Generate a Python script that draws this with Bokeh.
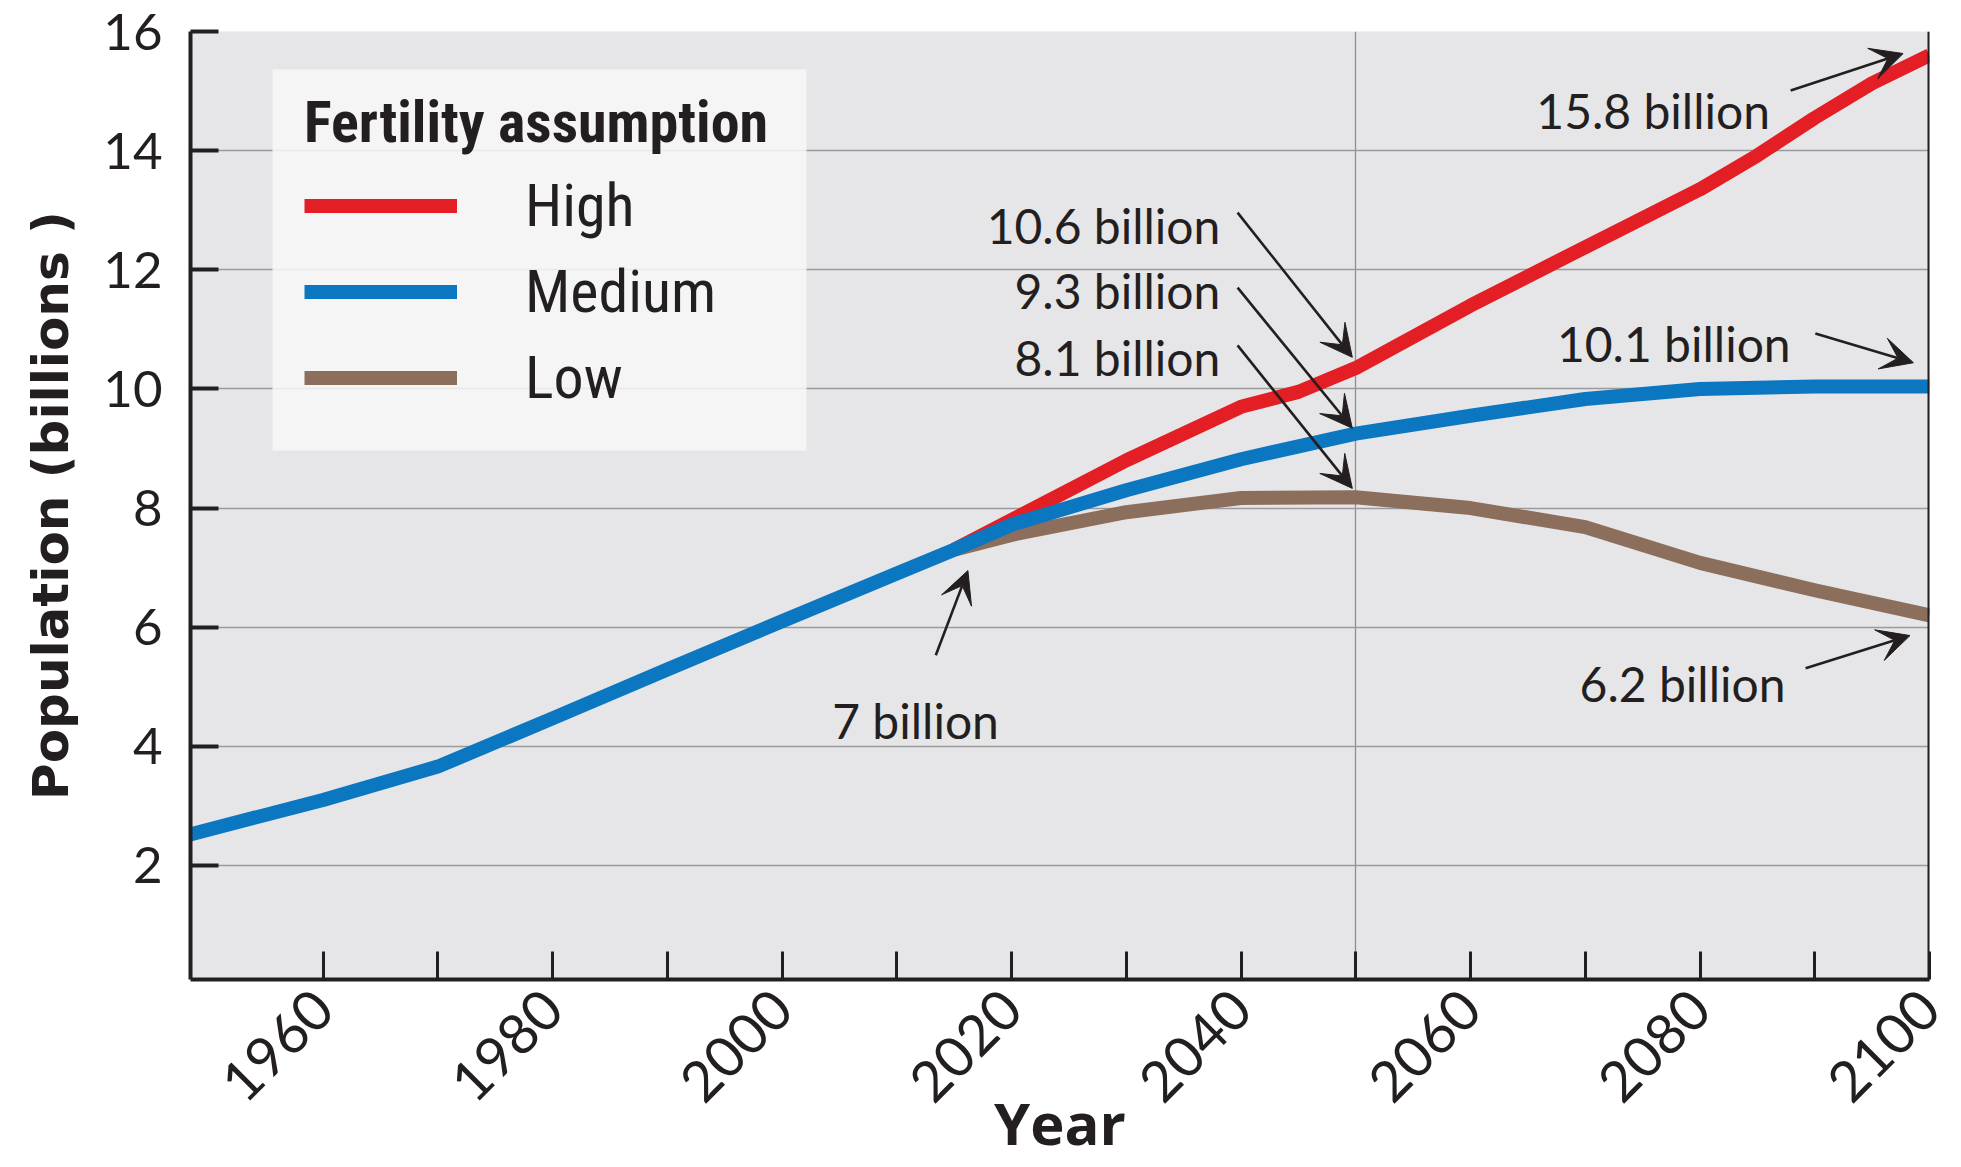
from math import pi
from bokeh.plotting import figure
from bokeh.models import (Range1d, FixedTicker, Legend, LegendItem, Arrow, VeeHead,
                          ColumnDataSource, Span, BoxAnnotation)
from bokeh.core.properties import value
from bokeh.embed import file_html
from bokeh.resources import INLINE

# ---------------- data ----------------
years_medium = [1948, 1960, 1970, 1980, 1990, 2000, 2010, 2015, 2020, 2030, 2040,
                2050, 2060, 2070, 2080, 2090, 2100]
medium = [2.50, 3.10, 3.66, 4.47, 5.29, 6.10, 6.90, 7.30, 7.72, 8.30, 8.82,
          9.25, 9.55, 9.83, 10.00, 10.04, 10.04]

years_high = [2015, 2020, 2030, 2040, 2045, 2050, 2060, 2070, 2080, 2085, 2090, 2095, 2100]
high = [7.30, 7.80, 8.80, 9.70, 9.95, 10.35, 11.40, 12.38, 13.35, 13.92, 14.55, 15.13, 15.60]

years_low = [2015, 2020, 2030, 2040, 2050, 2060, 2070, 2080, 2090, 2100]
low = [7.30, 7.55, 7.93, 8.17, 8.18, 8.00, 7.68, 7.08, 6.62, 6.20]

x_tick_labels = [1960, 1980, 2000, 2020, 2040, 2060, 2080, 2100]
x_minor_ticks = [1970, 1990, 2010, 2030, 2050, 2070, 2090]
y_tick_labels = [2, 4, 6, 8, 10, 12, 14, 16]
reference_year = [2050]

series_names = ["High", "Medium", "Low"]
annotation_texts = ["15.8 billion", "10.1 billion", "6.2 billion", "7 billion",
                    "10.6 billion", "9.3 billion", "8.1 billion"]

# annotation placement (data coordinates)
ann_x = [2086.1, 2087.9, 2087.45, 2018.9, 2038.2, 2038.2, 2038.2]
ann_y = [14.67, 10.76, 5.06, 4.43, 12.74, 11.65, 10.53]
arrow_x0 = [2087.9, 2090.05, 2089.2, 2013.4, 2039.7, 2039.7, 2039.7]
arrow_y0 = [15.01, 10.93, 5.31, 5.53, 12.96, 11.70, 10.73]
arrow_x1 = [2097.7, 2098.6, 2098.3, 2016.2, 2049.7, 2049.7, 2049.7]
arrow_y1 = [15.63, 10.44, 5.86, 6.95, 10.53, 9.34, 8.33]

# ---------------- figure ----------------
INK = "#231f20"
p = figure(width=1953, height=1167, output_backend="svg", toolbar_location=None,
           x_range=Range1d(1948.45, 2100), y_range=Range1d(0.086, 16),
           min_border_left=190, min_border_right=24, min_border_top=31,
           min_border_bottom=188, background_fill_color="#e6e6e8",
           border_fill_color="white")
p.outline_line_color = None

# grid
p.ygrid.ticker = FixedTicker(ticks=y_tick_labels)
p.ygrid.grid_line_color = "#9b9b9d"
p.ygrid.grid_line_width = 1.6
p.xgrid.ticker = FixedTicker(ticks=reference_year)
p.xgrid.grid_line_color = "#8e8e90"
p.xgrid.grid_line_width = 1.3

# x axis
xa = p.xaxis[0]
xa.ticker = FixedTicker(ticks=x_tick_labels, minor_ticks=x_minor_ticks)
xa.axis_line_width = 4
xa.axis_line_color = INK
xa.major_tick_in = 28
xa.major_tick_out = 0
xa.minor_tick_in = 28
xa.minor_tick_out = 0
xa.major_tick_line_width = 3
xa.minor_tick_line_width = 3
xa.major_tick_line_color = INK
xa.minor_tick_line_color = INK
xa.major_label_orientation = pi / 4
xa.major_label_text_font = "Lato"
xa.major_label_text_font_size = "56px"
xa.major_label_text_color = INK
xa.major_label_standoff = 20
xa.axis_label = "Year"
xa.axis_label_text_font = "Open Sans"
xa.axis_label_text_font_style = "bold"
xa.axis_label_text_font_size = "58px"
xa.axis_label_text_color = INK
xa.axis_label_standoff = -40

# y axis
ya = p.yaxis[0]
ya.ticker = FixedTicker(ticks=y_tick_labels, minor_ticks=[])
ya.axis_line_width = 4
ya.axis_line_color = INK
ya.major_tick_in = 28
ya.major_tick_out = 0
ya.major_tick_line_width = 4
ya.major_tick_line_color = INK
ya.minor_tick_in = 0
ya.minor_tick_out = 0
ya.major_label_text_font = "Lato"
ya.major_label_text_font_size = "51px"
ya.major_label_text_color = INK
ya.major_label_standoff = 28
ya.axis_label = "Population (billions )"
ya.axis_label_text_font = "DejaVu Sans"
ya.axis_label_text_font_style = "bold"
ya.axis_label_text_font_size = "50px"
ya.axis_label_text_color = INK
ya.axis_label_standoff = 20

# right border
p.add_layout(Span(location=2100, dimension="height", line_color=INK, line_width=4))

# series
r_high = p.line(years_high, high, line_color="#e31e25", line_width=14, line_join="round")
r_low = p.line(years_low, low, line_color="#8b6e5b", line_width=14, line_join="round")
r_med = p.line(years_medium, medium, line_color="#0c77c1", line_width=14, line_join="round")

# annotations
arrow_src = ColumnDataSource(dict(x0=arrow_x0, y0=arrow_y0, x1=arrow_x1, y1=arrow_y1))
p.add_layout(Arrow(end=VeeHead(size=32, fill_color=INK, line_color=INK),
                   source=arrow_src, x_start="x0", y_start="y0", x_end="x1", y_end="y1",
                   line_width=2.6, line_color=INK))
p.text(x=ann_x, y=ann_y, text=annotation_texts, text_font=value("Lato"),
       text_font_size="48px", text_align="right", text_baseline="alphabetic",
       text_color=INK)

# legend panel background (screen units, relative to the frame)
p.add_layout(BoxAnnotation(left=82, right=616, bottom=529, top=910,
                           left_units="screen", right_units="screen",
                           bottom_units="screen", top_units="screen",
                           fill_color="#f7f7f7", fill_alpha=0.85, line_color=None))

# legend
legend = Legend(items=[LegendItem(label=series_names[0], renderers=[r_high]),
                       LegendItem(label=series_names[1], renderers=[r_med]),
                       LegendItem(label=series_names[2], renderers=[r_low])],
                location=(114, 564), title="Fertility assumption",
                title_text_font="Roboto Condensed", title_text_font_style="bold",
                title_text_font_size="58px", title_text_color=INK, title_standoff=12,
                label_text_font="Roboto Condensed", label_text_font_size="60px",
                label_text_color=INK, label_standoff=68, label_height=75,
                glyph_width=153, glyph_height=75, spacing=11, padding=0, margin=0,
                background_fill_alpha=0, border_line_color=None)
p.add_layout(legend)

open("out.html", "w").write(file_html(p, INLINE))
